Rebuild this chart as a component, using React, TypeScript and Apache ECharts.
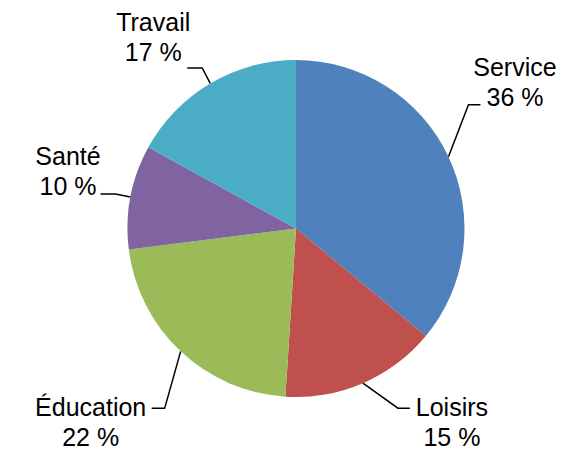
import { useEffect, useRef } from "react";
import * as echarts from "echarts";

const categories = ["Service", "Loisirs", "Éducation", "Santé", "Travail"];
const values = [36, 15, 22, 10, 17];
const colors = ["#4F81BD", "#C0504D", "#9BBB59", "#8064A2", "#4BACC6"];

// Leader-line styling per slice (relative to the slice's edge point computed by ECharts)
const elbowOffsets = [
  [20, -52],
  [35, 25],
  [-16, 57],
  [-15, -3],
  [-8, -15.5],
];
const runLengths = [12, 12, -13, -15, -15];
const labelOffsets = [
  [34.5, -23],
  [42, 14],
  [-61, 14],
  [-32.5, -22.5],
  [-34, -31],
];

export default function App() {
  const ref = useRef<HTMLDivElement>(null);
  useEffect(() => {
    if (!ref.current) return;
    const chart = echarts.init(ref.current, undefined, { renderer: "svg" });
    chart.setOption({
      animation: false,
      backgroundColor: "#ffffff",
      series: [
        {
          type: "pie",
          center: [296, 228.5],
          radius: 168.5,
          startAngle: 90,
          clockwise: true,
          avoidLabelOverlap: false,
          data: categories.map((name, i) => ({
            name,
            value: values[i],
            itemStyle: { color: colors[i] },
          })),
          itemStyle: { borderWidth: 0 },
          emphasis: { disabled: true },
          label: {
            show: true,
            position: "outside",
            formatter: (p: any) => `${p.name}\n${p.value} %`,
            fontFamily: "Liberation Sans, Arial, sans-serif",
            fontSize: 25,
            lineHeight: 30,
            color: "#000000",
            align: "center",
          },
          labelLine: {
            show: true,
            length: 20,
            length2: 10,
            smooth: false,
            lineStyle: { color: "#000000", width: 1.5 },
          },
          labelLayout: (params: any) => {
            const i = params.dataIndex;
            const pts = params.labelLinePoints;
            if (!pts) return {};
            const x0 = pts[0][0];
            const y0 = pts[0][1];
            const ex = x0 + elbowOffsets[i][0];
            const ey = y0 + elbowOffsets[i][1];
            const hx = ex + runLengths[i];
            return {
              x: hx + labelOffsets[i][0],
              y: ey + labelOffsets[i][1],
              align: "center",
              verticalAlign: "middle",
              labelLinePoints: [
                [x0, y0],
                [ex, ey],
                [hx, ey],
              ],
            };
          },
        },
      ],
    });
    return () => chart.dispose();
  }, []);
  return (
    <div
      ref={ref}
      style={{ position: "fixed", left: 0, top: 0, width: 566, height: 450 }}
    />
  );
}
